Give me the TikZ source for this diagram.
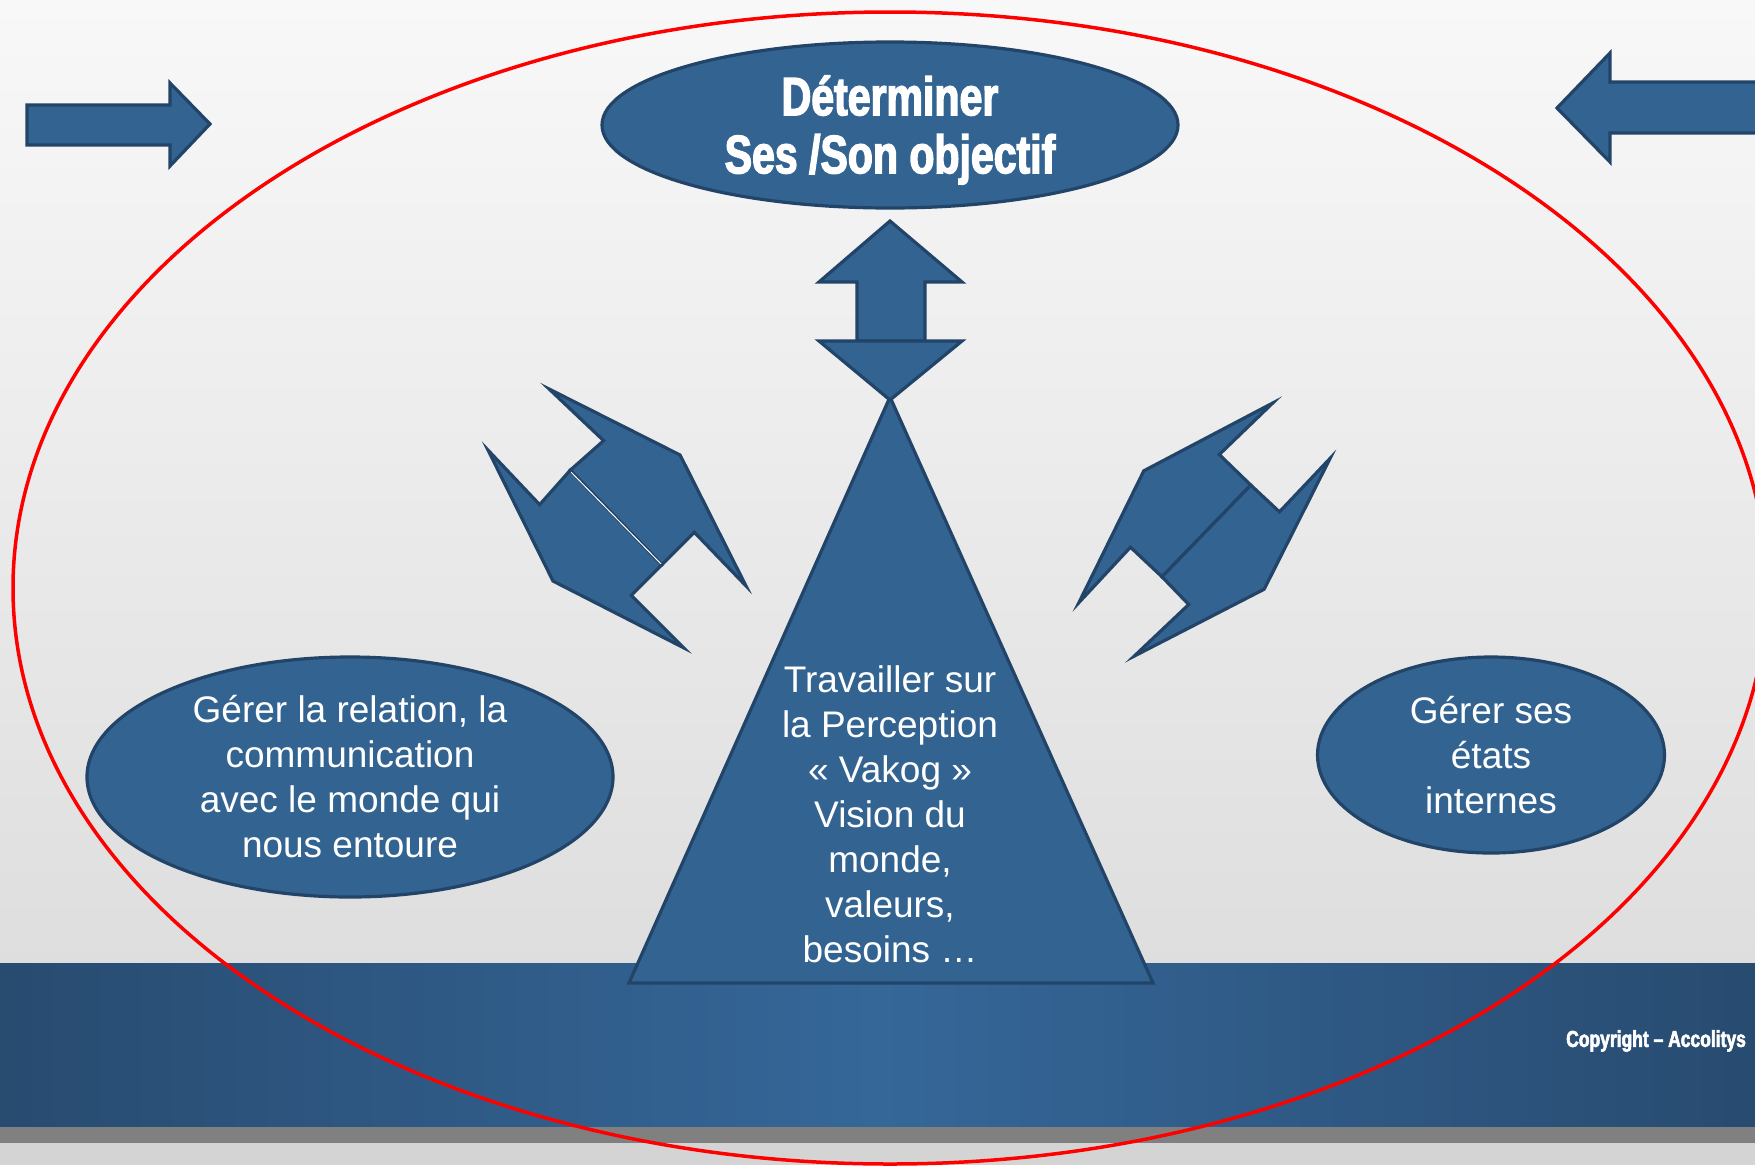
\documentclass[tikz,border=0pt]{standalone}
\usepackage{fontspec}
\setmainfont{Liberation Sans}
\newfontfamily\impactf[FakeStretch=0.76,FakeBold=2.5]{Liberation Sans Bold}
\usetikzlibrary{shapes.geometric}
\definecolor{shapefill}{RGB}{51,100,145}
\definecolor{shapeline}{RGB}{34,68,105}
\definecolor{banddark}{RGB}{40,75,112}
\definecolor{bandmid}{RGB}{53,103,153}
\definecolor{bgtop}{RGB}{248,248,248}
\definecolor{bgbot}{RGB}{222,222,222}
\definecolor{stripgray}{RGB}{128,128,128}
\definecolor{lowgray}{RGB}{212,212,212}
\definecolor{ringred}{RGB}{255,0,0}
\begin{document}
\begin{tikzpicture}[x=1pt,y=-1pt,
  blueshape/.style={fill=shapefill, draw=shapeline, line width=3.2pt, line join=miter},
  ell/.style={ellipse, blueshape, inner sep=0pt, text=white, align=center,
    font=\fontsize{37}{45}\selectfont},
  bodytext/.style={text=white, align=center, font=\fontsize{37}{45}\selectfont}]
\useasboundingbox (0,0) rectangle (1755,1165);
% background
\shade[top color=bgtop, bottom color=bgbot] (0,0) rectangle (1755,963);
\shade[left color=banddark, right color=banddark, middle color=bandmid] (0,963) rectangle (1755,1127);
\fill[stripgray] (0,1127) rectangle (1755,1143);
\fill[lowgray] (0,1143) rectangle (1755,1165);
% top arrows
\draw[blueshape] (27,105) -- (170,105) -- (170,83) -- (210,124) -- (170,166) -- (170,145) -- (27,145) -- cycle;
\draw[blueshape] (1557,108) -- (1610,53) -- (1610,82) -- (1762,82) -- (1762,133) -- (1610,133) -- (1610,162) -- cycle;
% goal ellipse
\node[ell, minimum width=576pt, minimum height=166pt] (goal) at (890,125) {};
\node[text=white, align=center, inner sep=0pt,
  font=\impactf\fontsize{54}{58}\selectfont] (goaltext) at (890,130) {Déterminer\\Ses /Son objectif};
% side ellipses
\node[ell, minimum width=526pt, minimum height=240pt] (rel) at (350,777)
  {Gérer la relation, la\\communication\\avec le monde qui\\nous entoure};
\node[ell, minimum width=347pt, minimum height=196pt] (etat) at (1491,755)
  {Gérer ses\\états\\internes};
% triangle
\draw[blueshape] (890,397) -- (1153,983) -- (629,983) -- cycle;
\node[bodytext] (perc) at (890,814)
  {Travailler sur\\la Perception\\« Vakog »\\Vision du\\monde,\\valeurs,\\besoins …};
% up-down arrow
\draw[blueshape] (890,221) -- (962,282) -- (925,282) -- (925,341) -- (857,341) -- (857,282) -- (819,282) -- cycle;
\draw[blueshape] (819,341) -- (962,341) -- (890,400) -- cycle;
% left double arrow
\begin{scope}[scale around={0.955:(617,518)}]
\draw[blueshape] (546,383) -- (603,437) -- (568,468) -- (664,567) -- (698,533) -- (752,589) -- (683,452) -- cycle;
\draw[blueshape] (482,447) -- (536,504) -- (568,468) -- (664,567) -- (632,599) -- (687,654) -- (550,584) -- cycle;
\draw[white, line width=1pt] (569,470) -- (663,566);
\end{scope}
% right double arrow
\begin{scope}[scale around={0.955:(1204,530)}]
\draw[blueshape] (1276,397) -- (1220,451) -- (1253,483) -- (1160,579) -- (1127,548) -- (1073,606) -- (1141,468) -- cycle;
\draw[blueshape] (1253,483) -- (1283,511) -- (1336,455) -- (1267,592) -- (1131,662) -- (1188,608) -- (1160,579) -- cycle;
\end{scope}
% copyright
\node[anchor=west, text=white, inner sep=0pt, font=\impactf\fontsize{23}{26}\selectfont] (copy) at (1566,1041) {Copyright – Accolitys};
% red ring
\draw[ringred, line width=3.5pt] (890,588) ellipse [x radius=877pt, y radius=576pt];
\end{tikzpicture}
\end{document}
